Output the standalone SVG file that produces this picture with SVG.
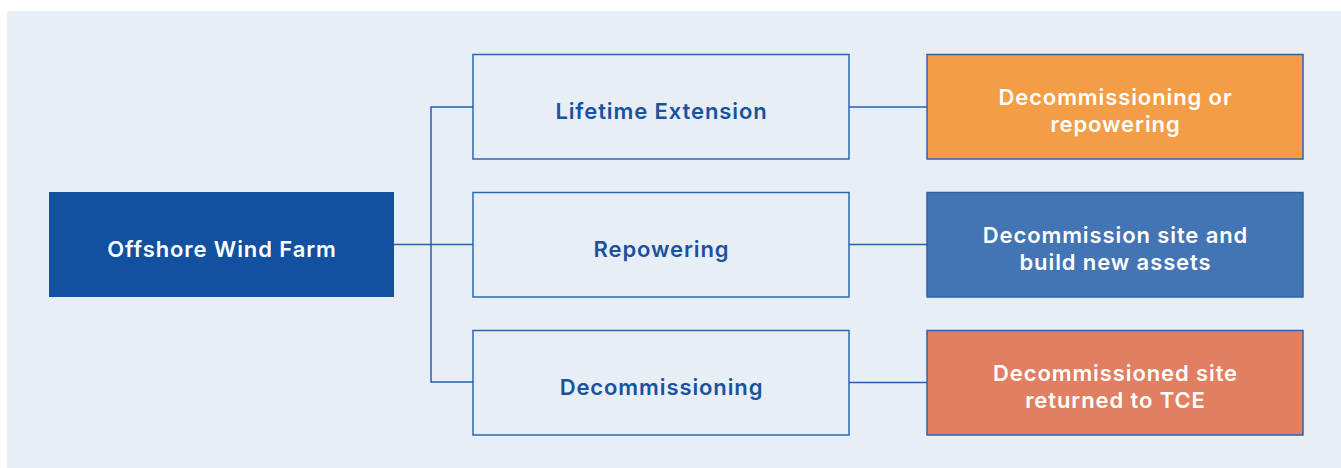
<svg xmlns="http://www.w3.org/2000/svg" width="1341" height="468" viewBox="0 0 1341 468">
  <style>
    .panel { fill: #E7EEF6; }
    .root { fill: #1251A0; }
    .option { fill: #E7EEF6; stroke: #2F65AF; stroke-width: 1.5; }
    .outcome { stroke: #2F62AA; stroke-width: 1.5; }
    .link { fill: none; stroke: #2A5FAA; stroke-width: 1.5; }
    text { font-family: Inter, "Open Sans", "Liberation Sans", sans-serif; font-weight: 600; font-size: 22px; letter-spacing: 0.9px; text-anchor: middle; }
    .light { fill: #FFFFFF; }
    .dark { fill: #1A52A0; }
  </style>

  <rect class="panel" x="7" y="11" width="1334" height="457"/>

  <!-- connectors -->
  <g id="connectors">
    <path class="link" d="M394 244.5 H473"/>
    <path class="link" d="M473 107 H431 V382 H473"/>
    <path class="link" d="M849 107 H927"/>
    <path class="link" d="M849 244.5 H927"/>
    <path class="link" d="M849 382.5 H927"/>
  </g>

  <g id="offshore-wind-farm">
    <rect class="root" x="49" y="192" width="345" height="105"/>
    <text class="light" x="222" y="257">Offshore Wind Farm</text>
  </g>

  <g id="lifetime-extension">
    <rect class="option" x="473" y="54.5" width="376" height="104.5"/>
    <text class="dark" x="661.5" y="119">Lifetime Extension</text>
  </g>

  <g id="repowering">
    <rect class="option" x="473" y="192.5" width="376" height="104.5"/>
    <text class="dark" x="661.5" y="257">Repowering</text>
  </g>

  <g id="decommissioning">
    <rect class="option" x="473" y="330.5" width="376" height="104.5"/>
    <text class="dark" x="661.5" y="395">Decommissioning</text>
  </g>

  <g id="decommissioning-or-repowering">
    <rect class="outcome" x="927" y="54.5" width="376" height="104.5" fill="#F39E47"/>
    <text class="light" x="1115.5" y="105">Decommissioning or</text>
    <text class="light" x="1115.5" y="132">repowering</text>
  </g>

  <g id="decommission-and-build">
    <rect class="outcome" x="927" y="192.5" width="376" height="104.5" fill="#4374B3"/>
    <text class="light" x="1115.5" y="243">Decommission site and</text>
    <text class="light" x="1115.5" y="270">build new assets</text>
  </g>

  <g id="returned-to-tce">
    <rect class="outcome" x="927" y="330.5" width="376" height="104.5" fill="#E07F62"/>
    <text class="light" x="1115.5" y="381">Decommissioned site</text>
    <text class="light" x="1115.5" y="408">returned to TCE</text>
  </g>
</svg>
